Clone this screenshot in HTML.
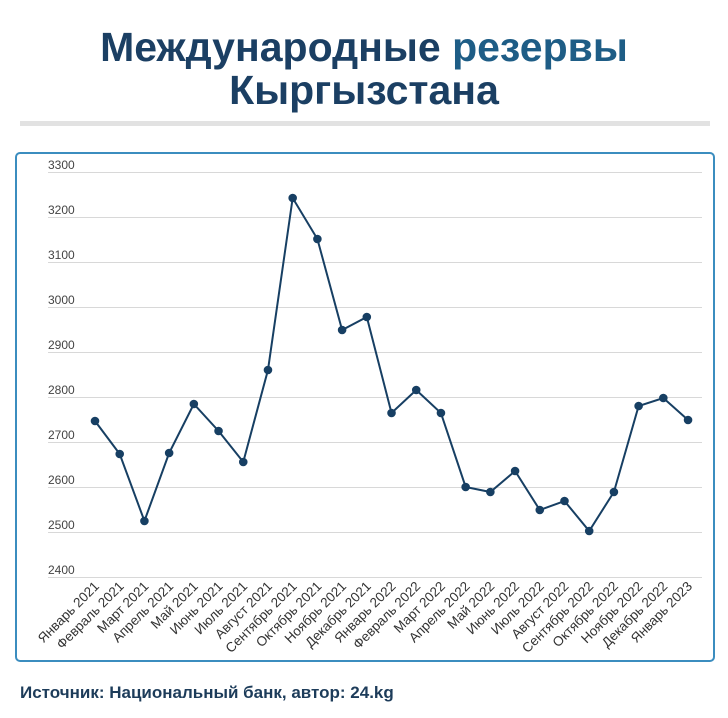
<!DOCTYPE html>
<html><head><meta charset="utf-8"><style>
body{margin:0;width:728px;height:718px;background:#fff;font-family:"Liberation Sans",sans-serif;overflow:hidden;position:relative}
.t{position:absolute;left:0;width:728px;text-align:center;font-weight:bold;font-size:41px;line-height:43px;color:#1b3f63;font-family:"Liberation Sans Narrow","Liberation Sans",sans-serif}
.bar{position:absolute;left:20px;top:121px;width:690px;height:5px;background:#e2e2e2}
.box{position:absolute;left:15px;top:152px;width:696px;height:506px;border:2px solid #3b8dbf;border-radius:5px}
.src{position:absolute;left:20px;top:683px;font-weight:bold;font-size:17px;color:#1d3c5a;font-family:"Liberation Sans Narrow","Liberation Sans",sans-serif}
</style></head><body>
<div class="t" style="top:26px">Международные <span style="color:#1e5d86">резервы</span></div>
<div class="t" style="top:69px">Кыргызстана</div>
<div class="bar"></div>
<div class="box"></div>
<svg style="position:absolute;left:0;top:0" width="728" height="718" font-family="Liberation Sans,sans-serif">
<g stroke="#d8d8d8" stroke-width="1">
<line x1="48" x2="702" y1="172.5" y2="172.5"/><line x1="48" x2="702" y1="217.5" y2="217.5"/><line x1="48" x2="702" y1="262.5" y2="262.5"/><line x1="48" x2="702" y1="307.5" y2="307.5"/><line x1="48" x2="702" y1="352.5" y2="352.5"/><line x1="48" x2="702" y1="397.5" y2="397.5"/><line x1="48" x2="702" y1="442.5" y2="442.5"/><line x1="48" x2="702" y1="487.5" y2="487.5"/><line x1="48" x2="702" y1="532.5" y2="532.5"/><line x1="48" x2="702" y1="577.5" y2="577.5"/>
</g>
<g font-size="12" fill="#444">
<text x="48" y="169">3300</text><text x="48" y="214">3200</text><text x="48" y="259">3100</text><text x="48" y="304">3000</text><text x="48" y="349">2900</text><text x="48" y="394">2800</text><text x="48" y="439">2700</text><text x="48" y="484">2600</text><text x="48" y="529">2500</text><text x="48" y="574">2400</text>
</g>
<g id="d"></g>
</svg>
<script>
var ys=[421,454,521,453,404,431,462,370,198,239,330,317,413,390,413,487,492,471,510,501,531,492,406,398,420];
var lb=["Январь 2021","Февраль 2021","Март 2021","Апрель 2021","Май 2021","Июнь 2021","Июль 2021","Август 2021","Сентябрь 2021","Октябрь 2021","Ноябрь 2021","Декабрь 2021","Январь 2022","Февраль 2022","Март 2022","Апрель 2022","Май 2022","Июнь 2022","Июль 2022","Август 2022","Сентябрь 2022","Октябрь 2022","Ноябрь 2022","Декабрь 2022","Январь 2023"];
var s="",p="";
for(var i=0;i<25;i++){var x=95+i*24.71;p+=(i?"L":"M")+x+" "+ys[i];
s+='<circle cx="'+x+'" cy="'+ys[i]+'" r="4.3" fill="#173f63"/>';
s+='<text x="'+(x+5)+'" y="587" font-size="13.5" fill="#333" text-anchor="end" transform="rotate(-45 '+(x+5)+' 587)">'+lb[i]+'</text>';}
document.getElementById("d").innerHTML='<path d="'+p+'" fill="none" stroke="#173f63" stroke-width="2"/>'+s;
</script>
<div class="src">Источник: Национальный банк, автор: 24.kg</div>
</body></html>
